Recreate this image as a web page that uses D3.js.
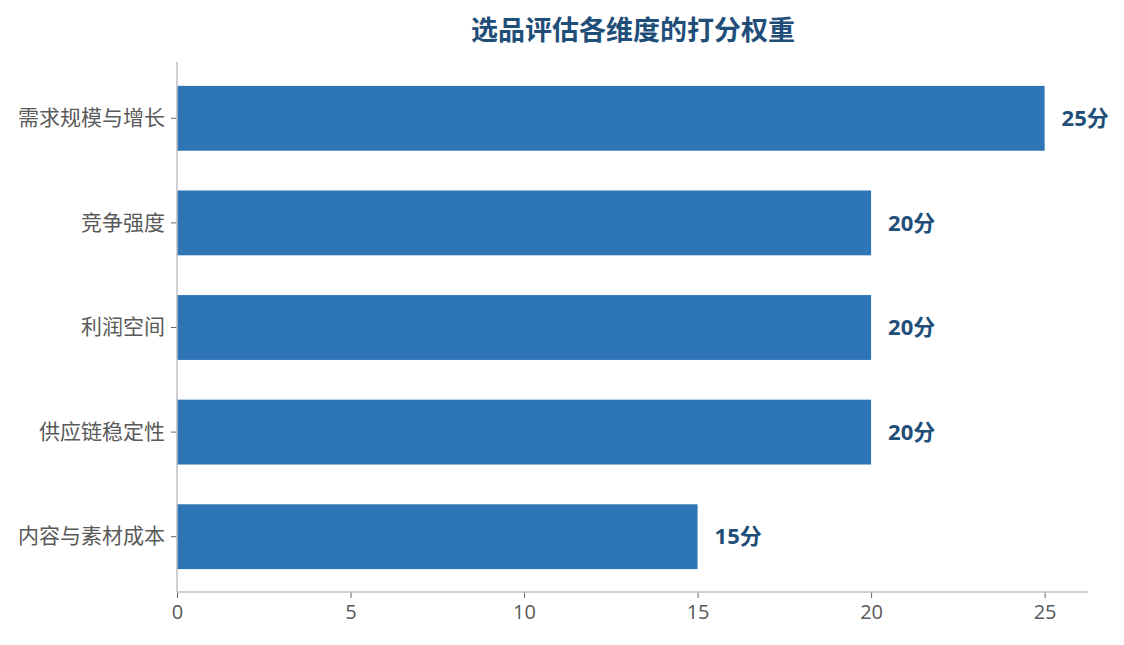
<!DOCTYPE html>
<html><head><meta charset="utf-8">
<script src="https://cdn.jsdelivr.net/npm/d3@7"></script>
<style>body{margin:0;background:#fff;font-family:"Open Sans","Noto Sans CJK SC",sans-serif;}</style>
</head><body><svg id="c" width="1124" height="645"></svg>
<script>
const categories = ["需求规模与增长","竞争强度","利润空间","供应链稳定性","内容与素材成本"];
const scores = [25,20,20,20,15];
const xTicks = [0,5,10,15,20,25];
const titleText = "选品评估各维度的打分权重";
const unit = "分";

const FONT = "'Open Sans','Noto Sans CJK SC',sans-serif";
const svg = d3.select("#c");
const mLeft = 177, mRight = 1088, mTop = 62, mBottom = 592;
const x = d3.scaleLinear().domain([0,26.25]).range([mLeft,mRight]);
const y = d3.scaleBand().domain(categories).range([66,589]).paddingInner(0.38).paddingOuter(0.19);

svg.append("text").attr("x",633).attr("y",40).attr("text-anchor","middle")
  .attr("font-family","'Noto Sans CJK SC',sans-serif")
  .attr("font-size",27).attr("font-weight","bold").attr("fill","#1f4e79").text(titleText);

svg.selectAll("rect.bar").data(categories).join("rect").attr("class","bar")
  .attr("x",x(0)).attr("y",d=>y(d)).attr("height",y.bandwidth())
  .attr("width",(d,i)=>x(scores[i])-x(0)).attr("fill","#2e75b6");

svg.selectAll("text.val").data(categories).join("text").attr("class","val")
  .attr("x",(d,i)=>x(scores[i])+17).attr("y",d=>y(d)+y.bandwidth()/2).attr("dy","0.35em")
  .attr("font-family",FONT)
  .attr("font-size",22).attr("font-weight","bold").attr("fill","#1f4e79")
  .text((d,i)=>scores[i]+unit);

// y axis
const ya = svg.append("g").attr("transform",`translate(${mLeft},0)`)
  .call(d3.axisLeft(y).tickSize(6).tickPadding(6));
ya.select(".domain").remove();
ya.append("line").attr("x1",0).attr("x2",0).attr("y1",mTop).attr("y2",mBottom).attr("stroke","#bfbfbf").attr("stroke-width",1.5);
ya.selectAll(".tick line").attr("stroke","#666");
ya.selectAll(".tick text").attr("font-size",21).attr("fill","#595959").attr("font-family",FONT);

// x axis
const xa = svg.append("g").attr("transform",`translate(0,${mBottom})`)
  .call(d3.axisBottom(x).tickValues(xTicks).tickSize(6).tickPadding(7));
xa.select(".domain").remove();
xa.append("line").attr("x1",mLeft).attr("x2",mRight).attr("y1",0).attr("y2",0).attr("stroke","#bfbfbf").attr("stroke-width",1.5);
xa.selectAll(".tick line").attr("stroke","#666");
xa.selectAll(".tick text").attr("font-size",20).attr("fill","#595959").attr("font-family",FONT);
</script></body></html>
